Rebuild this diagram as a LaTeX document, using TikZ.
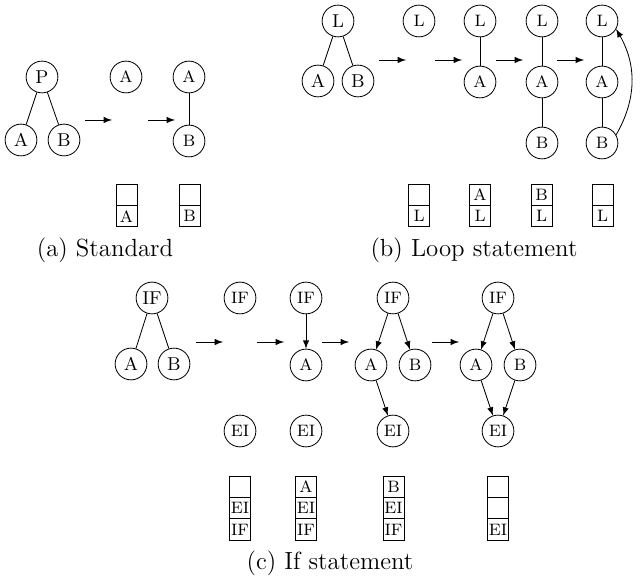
\documentclass[tikz,border=0pt]{standalone}
\usetikzlibrary{positioning}
\tikzset{
	vtx/.style={draw, circle, minimum size=0.54cm, inner sep=0pt, font=\small},
	svtx/.style={vtx, font=\footnotesize},
	cell/.style={draw, rectangle, minimum size=0.36cm, inner sep=0pt, outer sep=0pt, font=\footnotesize},
	subcap/.style={font=\large},
	go/.style={-latex},
}
\begin{document}
\begin{tikzpicture}[x=0.017cm, y=-0.017cm]
		\useasboundingbox (0,0) rectangle (640,580);
		% (a) standard
		\node[vtx] (aP) at (42,77) {P};
		\node[vtx] (aA) at (21,140) {A};
		\node[vtx] (aB) at (64,140) {B};
		\draw (aP) -- (aA) (aP) -- (aB);
		\node[svtx] (a1A) at (126,77) {A};
		\node[svtx] (a2A) at (189,77) {A};
		\node[svtx] (a2B) at (189,141) {B};
		\draw (a2A) -- (a2B);
		\foreach \x [count=\i] in {85,148}{
			\coordinate (ga\i) at (\x,120);
			\coordinate (ha\i) at (\x+27,120);
			\draw[go] (ga\i) -- (ha\i);
		}
		\node[cell] (sa1t) at (126.5,195) {};
		\node[cell, below=0pt of sa1t] (sa1b) {A};
		\node[cell] (sa2t) at (189.5,195) {};
		\node[cell, below=0pt of sa2t] (sa2b) {B};
		\node[subcap] (capa) at (105,250) {(a) Standard};
		% (b) loop statement
		\node[vtx] (bL) at (338,21) {L};
		\node[vtx] (bA) at (318,81) {A};
		\node[vtx] (bB) at (358,81) {B};
		\draw (bL) -- (bA) (bL) -- (bB);
		\node[svtx] (b1L) at (419,21) {L};
		\node[svtx] (b2L) at (480,21) {L};
		\node[svtx] (b2A) at (480,82) {A};
		\draw (b2L) -- (b2A);
		\node[svtx] (b3L) at (542,21) {L};
		\node[svtx] (b3A) at (542,82) {A};
		\node[svtx] (b3B) at (542,143) {B};
		\draw (b3L) -- (b3A) -- (b3B);
		\node[svtx] (b4L) at (602,21) {L};
		\node[svtx] (b4A) at (602,82) {A};
		\node[svtx] (b4B) at (602,143) {B};
		\draw (b4L) -- (b4A) -- (b4B);
		\draw[go] (b4B.30) to[out=60, in=-60] (b4L.-30);
		\foreach \x [count=\i] in {379,435,496,557}{
			\coordinate (gb\i) at (\x,60);
			\coordinate (hb\i) at (\x+27,60);
			\draw[go] (gb\i) -- (hb\i);
		}
		\node[cell] (sb1t) at (419,195) {};
		\node[cell, below=0pt of sb1t] (sb1b) {L};
		\node[cell] (sb2t) at (480,195) {A};
		\node[cell, below=0pt of sb2t] (sb2b) {L};
		\node[cell] (sb3t) at (541.5,195) {B};
		\node[cell, below=0pt of sb3t] (sb3b) {L};
		\node[cell] (sb4t) at (602.5,195) {};
		\node[cell, below=0pt of sb4t] (sb4b) {L};
		\node[subcap] (capb) at (474,250) {(b) Loop statement};
		% (c) if statement
		\node[vtx] (cIF) at (152,298) {IF};
		\node[vtx] (cA) at (131,364) {A};
		\node[vtx] (cB) at (174,364) {B};
		\draw (cIF) -- (cA) (cIF) -- (cB);
		\node[svtx] (c1IF) at (240,298) {IF};
		\node[svtx] (c1EI) at (240,431) {EI};
		\node[svtx] (c2IF) at (306,298) {IF};
		\node[svtx] (c2A) at (306,365) {A};
		\node[svtx] (c2EI) at (306,431) {EI};
		\draw[go] (c2IF) -- (c2A);
		\node[svtx] (c3IF) at (393,298) {IF};
		\node[svtx] (c3A) at (371,365) {A};
		\node[svtx] (c3B) at (415,365) {B};
		\node[svtx] (c3EI) at (393,431) {EI};
		\draw[go] (c3IF) -- (c3A);
		\draw[go] (c3IF) -- (c3B);
		\draw[go] (c3A) -- (c3EI);
		\node[svtx] (c4IF) at (498,298) {IF};
		\node[svtx] (c4A) at (476,365) {A};
		\node[svtx] (c4B) at (520,365) {B};
		\node[svtx] (c4EI) at (498,431) {EI};
		\draw[go] (c4IF) -- (c4A);
		\draw[go] (c4IF) -- (c4B);
		\draw[go] (c4A) -- (c4EI);
		\draw[go] (c4B) -- (c4EI);
		\foreach \x [count=\i] in {196,257,322,432}{
			\coordinate (gc\i) at (\x,342);
			\coordinate (hc\i) at (\x+27,342);
			\draw[go] (gc\i) -- (hc\i);
		}
		\node[cell] (sc1t) at (240,487) {};
		\node[cell, below=0pt of sc1t] (sc1m) {EI};
		\node[cell, below=0pt of sc1m] (sc1b) {IF};
		\node[cell] (sc2t) at (306,487) {A};
		\node[cell, below=0pt of sc2t] (sc2m) {EI};
		\node[cell, below=0pt of sc2m] (sc2b) {IF};
		\node[cell] (sc3t) at (393.5,487) {B};
		\node[cell, below=0pt of sc3t] (sc3m) {EI};
		\node[cell, below=0pt of sc3m] (sc3b) {IF};
		\node[cell] (sc4t) at (498,487) {};
		\node[cell, below=0pt of sc4t] (sc4m) {};
		\node[cell, below=0pt of sc4m] (sc4b) {EI};
		\node[subcap] (capc) at (330,563) {(c) If statement};
	\end{tikzpicture}
\end{document}
